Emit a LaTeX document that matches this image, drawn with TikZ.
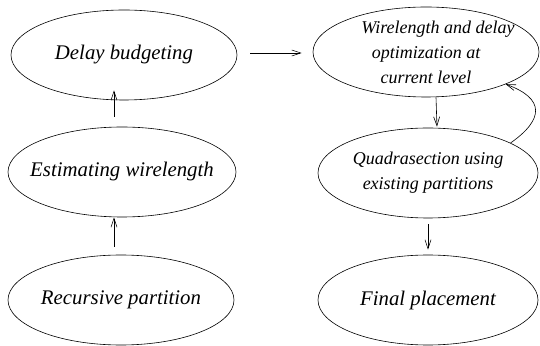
\documentclass[tikz,border=0pt]{standalone}
\usepackage{fontspec}
\setmainfont{Liberation Serif}[ItalicFont={Liberation Serif Italic}]
\usetikzlibrary{arrows.meta,shapes.geometric}
\tikzset{
  stage/.style   = {ellipse, draw=black, line width=0.6pt,
                    inner xsep=-30pt, inner ysep=0pt,
                    minimum width=226pt, minimum height=90pt, align=center,
                    font=\fontsize{20.8}{24}\selectfont\itshape},
  stagesm/.style = {stage, font=\fontsize{18}{25}\selectfont\itshape},
  flow/.style    = {black, line width=0.6pt, ->,
                    >={Straight Barb[length=9pt,width=6pt]}},
}

\begin{document}
\begin{tikzpicture}[x=1pt,y=1pt]
  \useasboundingbox (0,0) rectangle (540,345);
  % left column, bottom to top
  \node[stage]                    (delay) at (124,290) {Delay budgeting};
  \node[stage, minimum width=228pt] (estim) at (122,173) {Estimating wirelength};
  \node[stage]                    (recur) at (121,45)  {Recursive partition};
  % right column
  \node[stagesm, minimum width=226pt] (wire) at (426,293)
       {\kern12pt Wirelength and delay\kern-12pt\\optimization at\\current level};
  \node[stagesm, minimum width=220pt] (quad) at (428,172)
       {Quadrasection using\\existing partitions};
  \node[stage, minimum width=220pt]   (final) at (428,45) {Final placement};

  \draw[flow, shorten <=8pt] ([xshift=-7pt]recur.north) -- ([xshift=-8pt]estim.south);
  \draw[flow, shorten <=10pt, shorten >=-10pt]
       ([xshift=-8pt]estim.north) -- ([xshift=-10pt]delay.south);
  \draw[flow, shorten <=13pt, shorten >=11pt]
       ([yshift=2pt]delay.east) -- ([yshift=-1pt]wire.west);
  \draw[flow, shorten >=1pt] ([xshift=10pt]wire.south) -- ([xshift=9pt]quad.north);
  \draw[flow, shorten <=6pt, shorten >=5pt] (quad.south) -- (final.north);
  \draw[flow] (quad.20) to[out=35,in=-20,looseness=1.8] (wire.-22);
\end{tikzpicture}
\end{document}
